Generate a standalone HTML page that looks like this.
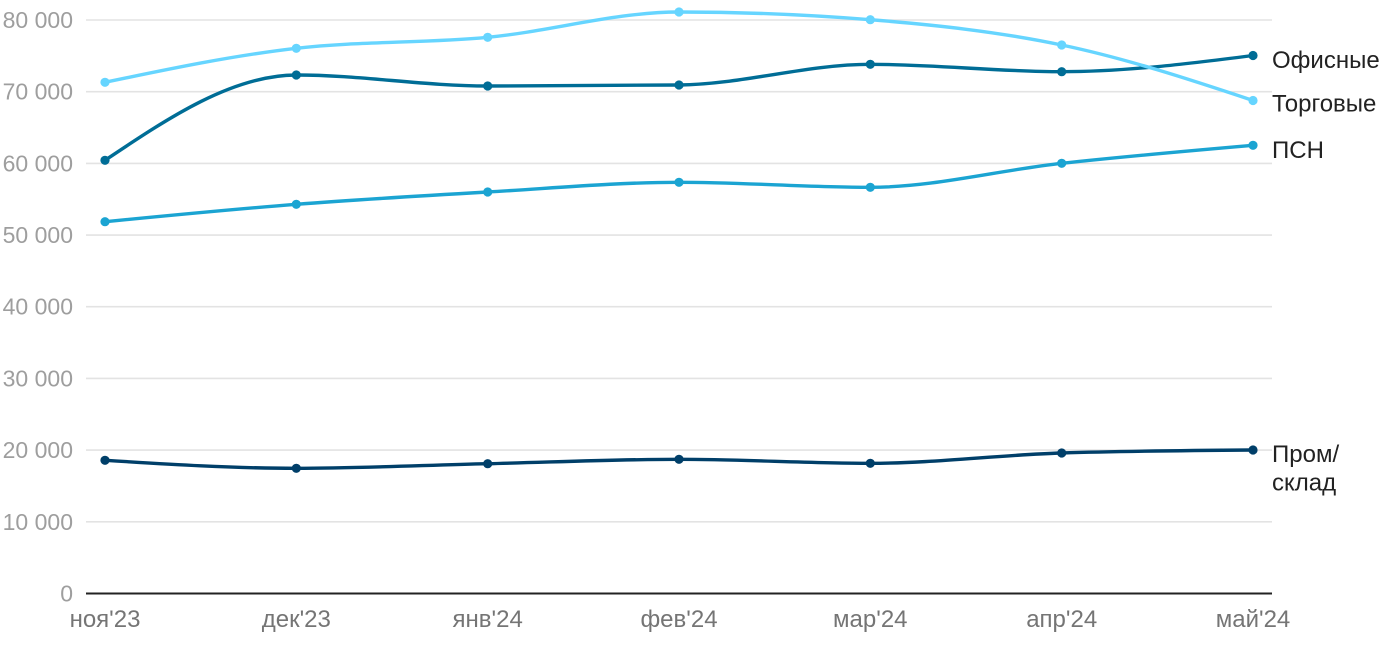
<!DOCTYPE html>
<html>
<head>
<meta charset="utf-8">
<style>
  html, body { margin: 0; padding: 0; background: #ffffff; }
  body { width: 1400px; height: 650px; overflow: hidden; }
  svg { display: block; }
  .yl { font-family: "Liberation Sans", Arial, sans-serif; font-size: 23px; fill: #9e9e9e; text-anchor: end; }
  .xl { font-family: "Liberation Sans", Arial, sans-serif; font-size: 24px; fill: #757575; text-anchor: middle; }
  .lg { font-family: "Liberation Sans", Arial, sans-serif; font-size: 24px; fill: #222222; }
</style>
</head>
<body>
<svg width="1400" height="650" viewBox="0 0 1400 650" xmlns="http://www.w3.org/2000/svg">
  <!-- gridlines -->
  <g stroke="#e3e3e3" stroke-width="1.6">
    <line x1="86" y1="20" x2="1272" y2="20"/>
    <line x1="86" y1="91.7" x2="1272" y2="91.7"/>
    <line x1="86" y1="163.4" x2="1272" y2="163.4"/>
    <line x1="86" y1="235.1" x2="1272" y2="235.1"/>
    <line x1="86" y1="306.7" x2="1272" y2="306.7"/>
    <line x1="86" y1="378.4" x2="1272" y2="378.4"/>
    <line x1="86" y1="450.1" x2="1272" y2="450.1"/>
    <line x1="86" y1="521.8" x2="1272" y2="521.8"/>
  </g>
  <!-- axis -->
  <line x1="86" y1="593.5" x2="1272" y2="593.5" stroke="#222222" stroke-width="2"/>

  <!-- y labels -->
  <text class="yl" x="73" y="28">80 000</text>
  <text class="yl" x="73" y="99.7">70 000</text>
  <text class="yl" x="73" y="171.4">60 000</text>
  <text class="yl" x="73" y="243.1">50 000</text>
  <text class="yl" x="73" y="314.7">40 000</text>
  <text class="yl" x="73" y="386.4">30 000</text>
  <text class="yl" x="73" y="458.1">20 000</text>
  <text class="yl" x="73" y="529.8">10 000</text>
  <text class="yl" x="73" y="601.5">0</text>

  <!-- x labels -->
  <text class="xl" x="105" y="627">ноя'23</text>
  <text class="xl" x="296.3" y="627">дек'23</text>
  <text class="xl" x="487.7" y="627">янв'24</text>
  <text class="xl" x="679" y="627">фев'24</text>
  <text class="xl" x="870.3" y="627">мар'24</text>
  <text class="xl" x="1061.7" y="627">апр'24</text>
  <text class="xl" x="1253" y="627">май'24</text>

  <!-- Пром/склад -->
  <g fill="none" stroke="#003f69" stroke-width="3.4" stroke-linecap="round">
    <path d="M105,460.3 C168.8,464.3 232.5,468.3 296.3,468.3 C360.1,468.3 423.9,465.2 487.7,463.7 C551.4,462.2 615.2,459.3 679,459.3 C742.8,459.3 806.5,463.3 870.3,463.3 C934.1,463.3 997.9,455 1061.7,453 C1125.4,451 1189.2,450.5 1253,450"/>
  </g>
  <g fill="#003f69">
    <circle cx="105" cy="460.3" r="4.6"/><circle cx="296.3" cy="468.3" r="4.6"/><circle cx="487.7" cy="463.7" r="4.6"/>
    <circle cx="679" cy="459.3" r="4.6"/><circle cx="870.3" cy="463.3" r="4.6"/><circle cx="1061.7" cy="453" r="4.6"/><circle cx="1253" cy="450" r="4.6"/>
  </g>

  <!-- ПСН -->
  <g fill="none" stroke="#1ba4d2" stroke-width="3.4" stroke-linecap="round">
    <path d="M105,221.7 C168.8,215.48 232.5,209.25 296.3,204.3 C360.1,199.35 423.9,195.67 487.7,192 C551.4,188.33 615.2,182.3 679,182.3 C742.8,182.3 806.5,187.3 870.3,187.3 C934.1,187.3 997.9,170.3 1061.7,163.3 C1125.4,156.3 1189.2,150.8 1253,145.3"/>
  </g>
  <g fill="#1ba4d2">
    <circle cx="105" cy="221.7" r="4.6"/><circle cx="296.3" cy="204.3" r="4.6"/><circle cx="487.7" cy="192" r="4.6"/>
    <circle cx="679" cy="182.3" r="4.6"/><circle cx="870.3" cy="187.3" r="4.6"/><circle cx="1061.7" cy="163.3" r="4.6"/><circle cx="1253" cy="145.3" r="4.6"/>
  </g>

  <!-- Офисные -->
  <g fill="none" stroke="#006d96" stroke-width="3.4" stroke-linecap="round">
    <path d="M105,160.3 C168.8,117.65 232.5,75 296.3,75 C360.1,75 423.9,86 487.7,86 C551.4,86 615.2,85.67 679,85 C742.8,84.33 806.5,64.3 870.3,64.3 C934.1,64.3 997.9,71.7 1061.7,71.7 C1125.4,71.7 1189.2,63.6 1253,55.5"/>
  </g>
  <g fill="#006d96">
    <circle cx="105" cy="160.3" r="4.6"/><circle cx="296.3" cy="75" r="4.6"/><circle cx="487.7" cy="86" r="4.6"/>
    <circle cx="679" cy="85" r="4.6"/><circle cx="870.3" cy="64.3" r="4.6"/><circle cx="1061.7" cy="71.7" r="4.6"/><circle cx="1253" cy="55.5" r="4.6"/>
  </g>

  <!-- Торговые -->
  <g fill="none" stroke="#66d5ff" stroke-width="3.4" stroke-linecap="round">
    <path d="M105,82.3 C168.8,68.97 232.5,55.63 296.3,48.3 C360.1,40.97 423.9,43.35 487.7,37.3 C551.4,31.25 615.2,12 679,12 C742.8,12 806.5,14.57 870.3,19.7 C934.1,24.83 997.9,31.62 1061.7,45 C1125.4,58.38 1189.2,79.2 1253,100.5"/>
  </g>
  <g fill="#66d5ff">
    <circle cx="105" cy="82.3" r="4.6"/><circle cx="296.3" cy="48.3" r="4.6"/><circle cx="487.7" cy="37.3" r="4.6"/>
    <circle cx="679" cy="12" r="4.6"/><circle cx="870.3" cy="19.7" r="4.6"/><circle cx="1061.7" cy="45" r="4.6"/><circle cx="1253" cy="100.5" r="4.6"/>
  </g>

  <!-- legend labels -->
  <text class="lg" x="1272" y="68">Офисные</text>
  <text class="lg" x="1272" y="111.5">Торговые</text>
  <text class="lg" x="1272" y="158">ПСН</text>
  <text class="lg" x="1272" y="462">Пром/</text>
  <text class="lg" x="1272" y="490.5">склад</text>
</svg>
</body>
</html>
